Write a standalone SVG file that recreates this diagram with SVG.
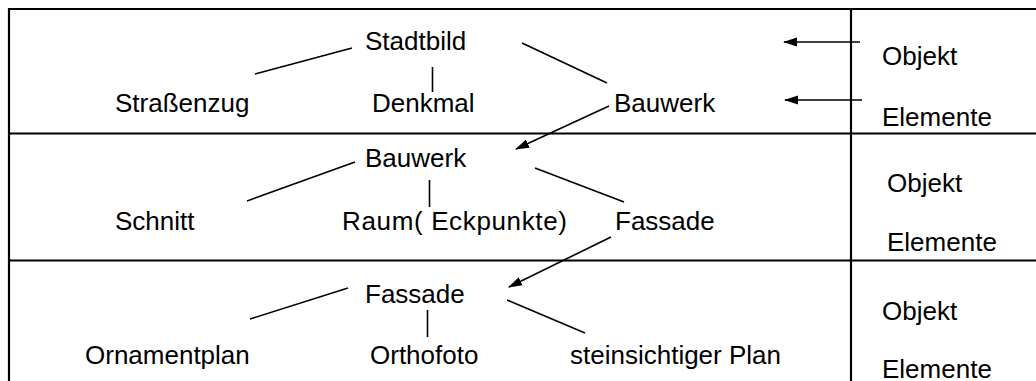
<svg xmlns="http://www.w3.org/2000/svg" width="1036" height="381" viewBox="0 0 1036 381">
<style>
text{font-family:"Liberation Sans",Arial,sans-serif;font-size:26px;fill:#000}
.frame{stroke:#000;stroke-width:2.2;fill:none}
.c{stroke:#000;stroke-width:1.6;fill:none}
</style>
<defs>
<marker id="ah" markerWidth="14" markerHeight="10" refX="13" refY="5" orient="auto" markerUnits="userSpaceOnUse">
<path d="M0,0.5 L14,5 L0,9.5 Z" fill="#000"/>
</marker>
</defs>
<rect width="1036" height="381" fill="#fff"/>
<g id="frame">
<line class="frame" x1="9" y1="9" x2="1036" y2="9"/>
<line class="frame" x1="9" y1="133.5" x2="1036" y2="133.5"/>
<line class="frame" x1="9" y1="260.5" x2="1036" y2="260.5"/>
<line class="frame" x1="9" y1="8" x2="9" y2="381"/>
<line class="frame" x1="851" y1="9" x2="851" y2="381"/>
</g>
<g id="connectors">
<line class="c" x1="255" y1="74" x2="352" y2="48"/>
<line class="c" x1="432.5" y1="67" x2="432.5" y2="92"/>
<line class="c" x1="522" y1="43" x2="607" y2="83"/>
<line class="c" x1="860" y1="42" x2="784" y2="42" marker-end="url(#ah)"/>
<line class="c" x1="862" y1="100" x2="785" y2="100" marker-end="url(#ah)"/>
<line class="c" x1="609" y1="106" x2="516" y2="149" marker-end="url(#ah)"/>
<line class="c" x1="247" y1="201" x2="355" y2="162"/>
<line class="c" x1="429.5" y1="180" x2="429.5" y2="207"/>
<line class="c" x1="535" y1="168" x2="624" y2="202"/>
<line class="c" x1="611" y1="237" x2="509" y2="287" marker-end="url(#ah)"/>
<line class="c" x1="250" y1="319" x2="348" y2="288"/>
<line class="c" x1="427.5" y1="310" x2="427.5" y2="337"/>
<line class="c" x1="507" y1="300" x2="585" y2="333"/>
</g>
<g id="n-stadtbild"><text x="365" y="50">Stadtbild</text></g>
<g id="n-strassenzug"><text x="115" y="112">Straßenzug</text></g>
<g id="n-denkmal"><text x="372" y="112">Denkmal</text></g>
<g id="n-bauwerk1"><text x="614" y="112">Bauwerk</text></g>
<g id="n-objekt1"><text x="882" y="65">Objekt</text></g>
<g id="n-elemente1"><text x="882" y="126">Elemente</text></g>
<g id="n-bauwerk2"><text x="365" y="167">Bauwerk</text></g>
<g id="n-schnitt"><text x="115" y="230">Schnitt</text></g>
<g id="n-raum"><text x="342" y="230" textLength="225" lengthAdjust="spacing">Raum( Eckpunkte)</text></g>
<g id="n-fassade1"><text x="615" y="230">Fassade</text></g>
<g id="n-objekt2"><text x="887" y="192">Objekt</text></g>
<g id="n-elemente2"><text x="887" y="251">Elemente</text></g>
<g id="n-fassade2"><text x="365" y="303">Fassade</text></g>
<g id="n-ornamentplan"><text x="85" y="364">Ornamentplan</text></g>
<g id="n-orthofoto"><text x="370" y="364">Orthofoto</text></g>
<g id="n-steinsichtig"><text x="570" y="364">steinsichtiger Plan</text></g>
<g id="n-objekt3"><text x="882" y="320">Objekt</text></g>
<g id="n-elemente3"><text x="882" y="378">Elemente</text></g>
</svg>
